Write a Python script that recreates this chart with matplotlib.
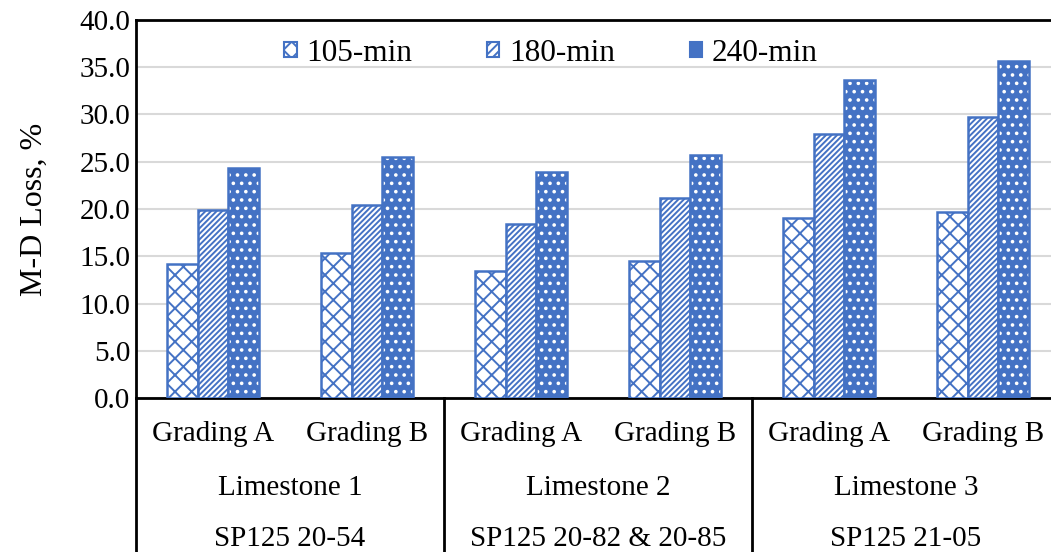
import matplotlib
matplotlib.use("Agg")
import matplotlib.pyplot as plt
import numpy as np
from matplotlib.transforms import blended_transform_factory
from matplotlib.patches import Patch

plt.rcParams['font.family'] = ['Liberation Serif', 'DejaVu Serif']
plt.rcParams['hatch.linewidth'] = 1.4

gradings = ["Grading A", "Grading B", "Grading A", "Grading B", "Grading A", "Grading B"]
limestones = ["Limestone 1", "Limestone 2", "Limestone 3"]
projects = ["SP125 20-54", "SP125 20-82 & 20-85", "SP125 21-05"]
series_names = ["105-min", "180-min", "240-min"]
loss_105 = [14.2, 15.3, 13.4, 14.5, 19.0, 19.7]
loss_180 = [19.9, 20.4, 18.4, 21.2, 27.9, 29.7]
loss_240 = [24.3, 25.5, 23.9, 25.7, 33.6, 35.7]

blue = "#4472C4"
fig = plt.figure(figsize=(10.51, 5.52), dpi=100)
ax = fig.add_axes([136/1051, 1-398/552, (1060-136)/1051, (398-20)/552])

x = np.arange(len(gradings))
w = 0.2
# 105-min
ax.bar(x - w, loss_105, w, facecolor="white", edgecolor=blue, hatch="xx", linewidth=1.8, zorder=3)
# 180-min
ax.bar(x, loss_180, w, facecolor="white", edgecolor=blue, hatch="//////", linewidth=1.8, zorder=3)
# 240-min
ax.bar(x + w, loss_240, w, facecolor=blue, edgecolor="white", hatch="..", linewidth=0, zorder=3)
ax.bar(x + w, loss_240, w, fill=False, edgecolor=blue, linewidth=1.8, zorder=4)

ax.set_xlim(-0.5, 5.5)
ax.set_ylim(0, 40)
ax.set_yticks(np.arange(0, 40.1, 5))
ax.set_yticklabels([f"{v:.1f}" for v in np.arange(0, 40.1, 5)], fontsize=21)
ax.tick_params(axis='y', length=0, pad=4)
ax.set_xticks([])
ax.yaxis.grid(True, color="#D9D9D9", linewidth=1.5, zorder=0)
ax.set_axisbelow(True)
for s in ["left", "top", "bottom"]:
    ax.spines[s].set_linewidth(2)
    ax.spines[s].set_color("black")
ax.spines["right"].set_visible(False)
ax.set_ylabel("M-D Loss, %", fontsize=23, labelpad=22)

# multi-level category axis
trans = blended_transform_factory(ax.transData, fig.transFigure)
for i, g in enumerate(gradings):
    ax.text(x[i], 1-434/552, g, transform=trans, ha="center", va="center", fontsize=21)
for j, (lname, pname) in enumerate(zip(limestones, projects)):
    c = 2*j + 0.5
    ax.text(c, 1-488/552, lname, transform=trans, ha="center", va="center", fontsize=21)
    ax.text(c, 1-539/552, pname, transform=trans, ha="center", va="center", fontsize=21)
for b in [-0.5, 1.5, 3.5, 5.5]:
    ax.plot([b, b], [1-398/552, 0], transform=trans, color="black", linewidth=2, clip_on=False)

# legend
handles = [
    Patch(facecolor="white", edgecolor=blue, hatch="xx", linewidth=1.5),
    Patch(facecolor="white", edgecolor=blue, hatch="////", linewidth=1.5),
    Patch(facecolor=blue, edgecolor=blue, linewidth=1.5),
]
leg = ax.legend(handles, series_names, loc="upper center", bbox_to_anchor=(0.449, 1.025), ncol=3,
                frameon=False, fontsize=22.5, handlelength=0.4, handleheight=0.4,
                handletextpad=0.3, columnspacing=2.4)

fig.savefig("out.png", dpi=100)
